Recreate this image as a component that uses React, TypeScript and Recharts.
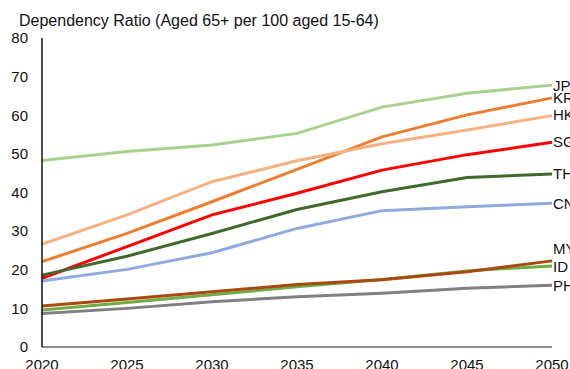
import { LineChart, Line, XAxis, YAxis, LabelList } from 'recharts'

// Old-age dependency ratio projections, 2020–2050
const years = [2020, 2025, 2030, 2035, 2040, 2045, 2050]

const jp = [48.3, 50.6, 52.3, 55.3, 62.1, 65.7, 67.8]
const kr = [22.1, 29.4, 37.6, 46.0, 54.4, 60.1, 64.5]
const hk = [26.6, 34.2, 42.8, 48.2, 52.6, 56.2, 59.9]
const sg = [17.8, 26.0, 34.2, 39.8, 45.8, 49.8, 53.0]
const th = [18.6, 23.5, 29.4, 35.6, 40.2, 43.9, 44.8]
const cn = [17.1, 20.1, 24.4, 30.7, 35.3, 36.3, 37.2]
const my = [10.6, 12.4, 14.3, 16.2, 17.4, 19.5, 22.3]
const id = [9.6, 11.5, 13.5, 15.6, 17.5, 19.7, 21.0]
const ph = [8.7, 10.0, 11.7, 13.0, 13.9, 15.2, 16.0]

const yTicks = [0, 10, 20, 30, 40, 50, 60, 70, 80]

const series = [
  { key: 'JP', values: jp, color: '#a9d18e', labelDy: 0 },
  { key: 'KR', values: kr, color: '#ed7d31', labelDy: 0 },
  { key: 'HK', values: hk, color: '#f4b183', labelDy: -1 },
  { key: 'SG', values: sg, color: '#ff0000', labelDy: -1 },
  { key: 'TH', values: th, color: '#41692c', labelDy: 0 },
  { key: 'CN', values: cn, color: '#8faadc', labelDy: 0 },
  { key: 'PH', values: ph, color: '#808080', labelDy: 0 },
  { key: 'ID', values: id, color: '#70ad47', labelDy: 1 },
  { key: 'MY', values: my, color: '#a9490f', labelDy: -12 },
]

const data = years.map((year, i) => {
  const row: Record<string, number> = { year }
  series.forEach(s => { row[s.key] = s.values[i] })
  return row
})

const FONT = '"Liberation Sans", Arial, sans-serif'

// country code printed just right of the last point
const endLabel = (name: string, dy: number) => (props: any) => {
  const { x, y, index } = props
  if (index !== years.length - 1) return null
  return (
    <text x={x + 1} y={y + dy} dominantBaseline="central" fontSize={15} fill="#111" fontFamily={FONT}>
      {name}
    </text>
  )
}

export default function App() {
  return (
    <div style={{ position: 'absolute', left: 0, top: 0, width: 570, height: 369, overflow: 'hidden', background: '#fff', fontFamily: FONT }}>
      <div style={{ position: 'absolute', left: 19, top: 12, fontSize: 16, color: '#111', whiteSpace: 'nowrap' }}>
        Dependency Ratio (Aged 65+ per 100 aged 15-64)
      </div>
      <LineChart width={570} height={369} data={data} margin={{ top: 38, right: 18, left: 0, bottom: 0 }}>
        <XAxis
          dataKey="year"
          type="number"
          domain={[2020, 2050]}
          ticks={years}
          height={22}
          tickLine={false}
          tickSize={0}
          tickMargin={12}
          axisLine={{ stroke: '#8c8c8c', strokeWidth: 2 }}
          tick={{ fontSize: 15, fill: '#111', fontFamily: FONT }}
        />
        <YAxis
          domain={[0, 80]}
          ticks={yTicks}
          width={42}
          tickLine={false}
          tickSize={0}
          tickMargin={14}
          axisLine={{ stroke: '#111', strokeWidth: 1.5 }}
          tick={{ fontSize: 15, fill: '#111', fontFamily: FONT }}
        />
        {series.map(s => (
          <Line
            key={s.key}
            dataKey={s.key}
            stroke={s.color}
            strokeWidth={3}
            dot={false}
            isAnimationActive={false}
          >
            <LabelList dataKey={s.key} content={endLabel(s.key, s.labelDy)} />
          </Line>
        ))}
      </LineChart>
    </div>
  )
}
